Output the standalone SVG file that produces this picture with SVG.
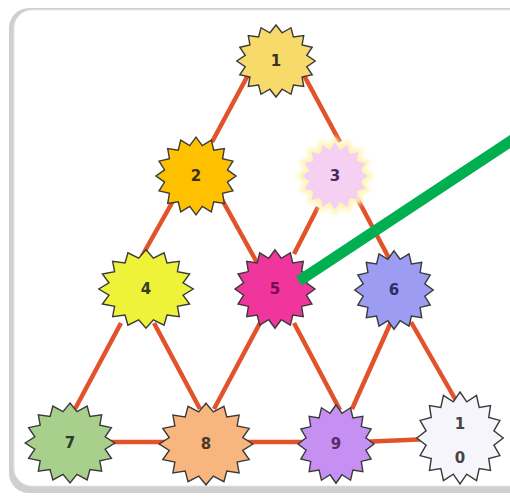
<svg xmlns="http://www.w3.org/2000/svg" xmlns:xlink="http://www.w3.org/1999/xlink" width="510" height="498" viewBox="0 0 510 498">
<style>
.edge{stroke:#E2522B;stroke-width:4.5;stroke-linecap:butt;fill:none}
.star{stroke:#3a3a3a;stroke-width:1.4}
.lbl{font-family:"DejaVu Sans",Verdana,sans-serif;font-size:15px;font-weight:bold;text-anchor:middle;dominant-baseline:central}
</style>
<defs>
<path id="star" vector-effect="non-scaling-stroke" d="M0,-40 L6.24,-31.39 L15.31,-36.96 L17.78,-26.61 L28.28,-28.28 L26.61,-17.78 L36.96,-15.31 L31.39,-6.24 L40,0 L31.39,6.24 L36.96,15.31 L26.61,17.78 L28.28,28.28 L17.78,26.61 L15.31,36.96 L6.24,31.39 L0,40 L-6.24,31.39 L-15.31,36.96 L-17.78,26.61 L-28.28,28.28 L-26.61,17.78 L-36.96,15.31 L-31.39,6.24 L-40,0 L-31.39,-6.24 L-36.96,-15.31 L-26.61,-17.78 L-28.28,-28.28 L-17.78,-26.61 L-15.31,-36.96 L-6.24,-31.39 Z"/>
<filter id="soft" x="-20%" y="-20%" width="140%" height="140%"><feGaussianBlur stdDeviation="2"/></filter>
</defs>
<g id="panel">
<rect x="9" y="8" width="530" height="485" rx="20" fill="#cfcfcf"/>
<rect x="14" y="10" width="525" height="476" rx="18" fill="#ffffff" stroke="#e6e6e6" stroke-width="1"/>
</g>
<g id="connectors">
<line class="edge" x1="254" y1="64" x2="212" y2="142"/>
<line class="edge" x1="300" y1="68" x2="340" y2="142"/>
<line class="edge" x1="177" y1="194" x2="142" y2="256"/>
<line class="edge" x1="220" y1="196" x2="260" y2="268"/>
<line class="edge" x1="318" y1="207" x2="294" y2="254"/>
<line class="edge" x1="355" y1="194" x2="391" y2="262"/>
<line class="edge" x1="121" y1="323" x2="75" y2="409"/>
<line class="edge" x1="154" y1="323" x2="200" y2="409"/>
<line class="edge" x1="260" y1="323" x2="214" y2="409"/>
<line class="edge" x1="294" y1="323" x2="340" y2="410"/>
<line class="edge" x1="391" y1="322" x2="352" y2="409"/>
<line class="edge" x1="411" y1="322" x2="458" y2="404"/>
<line class="edge" x1="100" y1="442" x2="175" y2="442"/>
<line class="edge" x1="240" y1="442" x2="310" y2="442"/>
<line class="edge" x1="360" y1="442" x2="430" y2="439"/>
</g>
<g id="node1"><use xlink:href="#star" class="star" fill="#F8DA6A" transform="translate(276,61) scale(0.98,0.9)"/><text class="lbl" x="276" y="61" fill="#3a3222">1</text></g>
<g id="node2"><use xlink:href="#star" class="star" fill="#FFC000" transform="translate(196,176) scale(1.0,0.97)"/><text class="lbl" x="196" y="176" fill="#3a2e10">2</text></g>
<g id="node3"><use xlink:href="#star" fill="#FFF4B8" filter="url(#soft)" transform="translate(335,176) scale(0.98,1.0)"/><use xlink:href="#star" fill="#F6D0F2" transform="translate(335,176) scale(0.82,0.84)"/><text class="lbl" x="335" y="176" fill="#4a2a5a">3</text></g>
<g id="node4"><use xlink:href="#star" class="star" fill="#EEF238" transform="translate(146,289) scale(1.18,0.98)"/><text class="lbl" x="146" y="289" fill="#3a3a20">4</text></g>
<g id="node5"><use xlink:href="#star" class="star" fill="#F0359C" transform="translate(275,289) scale(1.0,0.98)"/><text class="lbl" x="275" y="289" fill="#7a0a48">5</text></g>
<g id="node6"><use xlink:href="#star" class="star" fill="#9C9CF2" transform="translate(394,290) scale(0.98,0.98)"/><text class="lbl" x="394" y="290" fill="#2e2e66">6</text></g>
<g id="node7"><use xlink:href="#star" class="star" fill="#A8D08C" transform="translate(70,443) scale(1.12,1.0)"/><text class="lbl" x="70" y="443" fill="#2e3a2a">7</text></g>
<g id="node8"><use xlink:href="#star" class="star" fill="#F8B57E" transform="translate(206,444) scale(1.17,1.02)"/><text class="lbl" x="206" y="444" fill="#4a3a2a">8</text></g>
<g id="node9"><use xlink:href="#star" class="star" fill="#C690F2" transform="translate(336,444) scale(0.95,0.98)"/><text class="lbl" x="336" y="444" fill="#5a2a6a">9</text></g>
<g id="node10"><use xlink:href="#star" class="star" fill="#F6F5FB" transform="translate(460,438) scale(1.08,1.15)"/><text class="lbl" x="460" y="424" fill="#444444">1</text><text class="lbl" x="460" y="458" fill="#444444">0</text></g>
<g id="pointer"><line x1="299" y1="281" x2="520" y2="135" stroke="#00B050" stroke-width="11"/></g>
</svg>
